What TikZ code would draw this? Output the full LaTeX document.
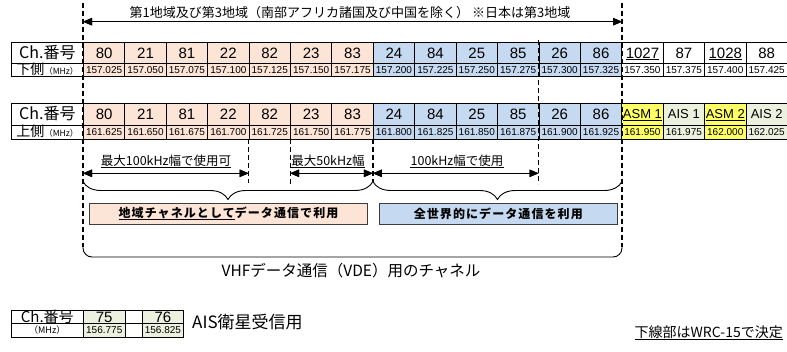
\documentclass[tikz,border=0pt]{standalone}
\usepackage{fontspec}
\setmainfont{Liberation Sans}
\newfontfamily\jp{Noto Sans CJK JP}
\usetikzlibrary{arrows.meta,decorations.pathreplacing}
\definecolor{cOr}{RGB}{252,228,214}
\definecolor{cBl}{RGB}{197,217,241}
\definecolor{cYe}{RGB}{255,255,102}
\definecolor{cGr}{RGB}{235,241,222}
\definecolor{cBox}{RGB}{60,60,60}
\newcommand\myul[2][2pt]{\leavevmode\setbox0=\hbox{#2}\rlap{\raisebox{-#1}{\rule{\wd0}{0.9pt}}}\box0}
\begin{document}
\begin{tikzpicture}[x=1pt,y=-1pt,
  cellbase/.style={draw, line width=0.8pt, inner sep=0pt, anchor=north west},
  numcell/.style={cellbase, minimum width=41.41pt, font=\fontsize{15}{15}\selectfont, text height=10.8pt, text depth=0pt},
  frqcell/.style={cellbase, minimum width=41.41pt, font=\fontsize{10}{10}\selectfont, text height=7.1pt, text depth=0pt},
  hdrcell/.style={cellbase, minimum width=72pt, font=\jp\fontsize{16}{16}\selectfont, text height=11.8pt, text depth=1pt},
  hdrfcell/.style={cellbase, minimum width=72pt, font=\jp\fontsize{14}{14}\selectfont, text height=10.5pt, text depth=1pt},
  dashv/.style={dash pattern=on 5pt off 3pt, line width=1.2pt},
  dimarrow/.style={line width=0.8pt, {Triangle[length=9pt,width=7.5pt]}-{Triangle[length=9pt,width=7.5pt]}},
  lbl/.style={font=\jp\fontsize{12.5}{12.5}\selectfont, inner sep=0pt},
  ulline/.style={line width=1pt},
  bracebrace/.style={decorate, decoration={brace, mirror, amplitude=18pt}, line width=0.9pt},
  usebox/.style={draw=cBox, line width=0.9pt, inner sep=0pt, minimum height=21pt, font=\jp\bfseries\fontsize{12}{12}\selectfont\addfontfeature{LetterSpace=9}}
]
\useasboundingbox (0,0) rectangle (787,351);

% ---------------- Coordinates
\coordinate (dLt) at (83,3);   \coordinate (dLb) at (83,247);
\coordinate (dRt) at (622,3);  \coordinate (dRb) at (622,247);
\coordinate (dMt) at (538.5,40); \coordinate (dMb) at (538.5,184);
\coordinate (dAt) at (248.6,139); \coordinate (dAb) at (248.6,183);
\coordinate (dBt) at (290.1,139); \coordinate (dBb) at (290.1,184);
\coordinate (dCt) at (372.9,139); \coordinate (dCb) at (372.9,182);
\coordinate (aTL) at (83,21.7); \coordinate (aTR) at (622,21.7);
\coordinate (w1L) at (83,173.3);    \coordinate (w1R) at (248.6,173.3);
\coordinate (w2L) at (290.1,173.3); \coordinate (w2R) at (372.9,173.3);
\coordinate (w3L) at (372.9,173.3); \coordinate (w3R) at (538.5,173.3);

% ---------------- Double-headed arrows
\foreach \pa/\pb in {aTL/aTR,w1L/w1R,w2L/w2R,w3L/w3R}{
  \draw[dimarrow] (\pa) -- (\pb);
  \fill (\pa) -- ++(9,-3.75) -- ++(0,7.5) -- cycle;
  \fill (\pb) -- ++(-9,-3.75) -- ++(0,7.5) -- cycle;
}

% ---------------- Title, labels, note
\node[font=\jp\fontsize{13}{13}\selectfont, inner sep=0pt] (title) at (350,12.5) {第1地域及び第3地域（南部アフリカ諸国及び中国を除く） ※日本は第3地域};
\node[lbl] (l1) at (166,160.5) {最大100kHz幅で使用可};
\node[lbl] (l2) at (328,160.5) {最大50kHz幅};
\node[lbl] (l3) at (457,160.5) {100kHz幅で使用};
\foreach \lb in {l1,l2,l3}
  \draw[ulline] ([yshift=-2.2pt]\lb.base west) -- ([yshift=-2.2pt]\lb.base east);
\node[font=\jp\fontsize{14}{14}\selectfont, inner sep=0pt, anchor=east] (note) at (783,332) {下線部はWRC-15で決定};
\draw[ulline] ([yshift=-2.5pt]note.base west) -- ([yshift=-2.5pt]note.base east);

% ---------------- Usage boxes
\node[usebox, fill=cOr, minimum width=278.4pt] (regbox) at (228.5,213.8) {\myul[2.5pt]{地域チャネルとして}データ通信で利用};
\node[usebox, fill=cBl, minimum width=238pt] (wldbox) at (498.3,213.8) {全世界的にデータ通信を利用};

% ---------------- Table 1 (lower side)
\node[hdrcell, minimum height=21.8pt] (t1h) at (11,41.5) {Ch.番号};
\node[hdrfcell, minimum height=12.7pt] (t1hf) at (11,63.3) {下側{\fontsize{8.5}{8.5}\selectfont（MHz）}};
\foreach \n/\f [count=\i from 0] in {80/157.025,21/157.050,81/157.075,22/157.100,82/157.125,23/157.150,83/157.175,24/157.200,84/157.225,25/157.250,85/157.275,26/157.300,86/157.325,\myul{1027}/157.350,87/157.375,\myul{1028}/157.400,88/157.425}{
  \pgfmathsetmacro\xx{83+\i*41.41}
  \ifnum\i<7 \def\fc{cOr}\else\ifnum\i<13 \def\fc{cBl}\else\def\fc{white}\fi\fi
  \node[numcell, fill=\fc, minimum height=21.8pt] (t1n\i) at (\xx,41.5) {\n};
  \node[frqcell, fill=\fc, minimum height=12.7pt] (t1f\i) at (\xx,63.3) {\f};
}

% ---------------- Table 2 (upper side)
\node[hdrcell, minimum height=21.5pt] (t2h) at (11,103) {Ch.番号};
\node[hdrfcell, minimum height=14.5pt] (t2hf) at (11,124.5) {上側{\fontsize{8.5}{8.5}\selectfont（MHz）}};
\foreach \n/\f [count=\i from 0] in {80/161.625,21/161.650,81/161.675,22/161.700,82/161.725,23/161.750,83/161.775,24/161.800,84/161.825,25/161.850,85/161.875,26/161.900,86/161.925,\myul{ASM 1}/161.950,AIS 1/161.975,\myul{ASM 2}/162.000,AIS 2/162.025}{
  \pgfmathsetmacro\xx{83+\i*41.41}
  \ifnum\i<7 \def\fc{cOr}\else\ifnum\i<13 \def\fc{cBl}\else\ifodd\i \def\fc{cYe}\else\def\fc{cGr}\fi\fi\fi
  \ifnum\i<13
    \node[numcell, fill=\fc, minimum height=21.5pt] (t2n\i) at (\xx,103) {\n};
  \else
    \node[numcell, fill=\fc, minimum height=21.5pt, font=\fontsize{13}{13}\selectfont, text height=9.4pt] (t2n\i) at (\xx,103) {\n};
  \fi
  \node[frqcell, fill=\fc, minimum height=14.5pt] (t2f\i) at (\xx,124.5) {\f};
}

% ---------------- Braces
\coordinate (b1L) at (83,181.5);    \coordinate (b1R) at (372.9,181.5);
\coordinate (b2L) at (372.9,181.5); \coordinate (b2R) at (622,181.5);
\draw[bracebrace] (b1L) -- (b1R);
\draw[bracebrace] (b2L) -- (b2R);

% ---------------- Big bracket
\coordinate (bgM) at (352.5,257);
\draw[line width=0.9pt, rounded corners=9pt] (dLb) |- (bgM) -| (dRb);
\node[font=\jp\fontsize{15.5}{15.5}\selectfont, inner sep=0pt] (vde) at (351,271) {VHFデータ通信（VDE）用のチャネル};

% ---------------- Table 3 (AIS satellite)
\node[hdrcell, minimum width=71.7pt, minimum height=13.3pt, font=\jp\fontsize{15}{15}\selectfont, text height=10.5pt, text depth=0.5pt] (t3h) at (11,310) {Ch.番号};
\node[hdrcell, minimum width=71.7pt, minimum height=13.4pt, font=\jp\fontsize{9}{9}\selectfont, text height=7pt, text depth=1pt] (t3hf) at (11,323.3) {（MHz）};
\node[numcell, fill=cGr, minimum width=42.3pt, minimum height=13.3pt, font=\fontsize{15}{15}\selectfont, text height=10.3pt] (t3n0) at (82.7,310) {75};
\node[frqcell, fill=cGr, minimum width=42.3pt, minimum height=13.4pt] (t3f0) at (82.7,323.3) {156.775};
\node[numcell, minimum width=16.7pt, minimum height=13.3pt] (t3n1) at (125,310) {};
\node[frqcell, minimum width=16.7pt, minimum height=13.4pt] (t3f1) at (125,323.3) {};
\node[numcell, fill=cGr, minimum width=41.6pt, minimum height=13.3pt, font=\fontsize{15}{15}\selectfont, text height=10.3pt] (t3n2) at (141.7,310) {76};
\node[frqcell, fill=cGr, minimum width=41.6pt, minimum height=13.4pt] (t3f2) at (141.7,323.3) {156.825};
\node[font=\jp\fontsize{17}{17}\selectfont, inner sep=0pt, anchor=west] (aisl) at (192,322) {AIS衛星受信用};

% ---------------- Dashed guide lines (drawn last)
\draw[dashv] (dLt) -- (dLb);
\draw[dashv] (dRt) -- (dRb);
\draw[dashv] (dMt) -- (dMb);
\draw[dashv] (dAt) -- (dAb);
\draw[dashv] (dBt) -- (dBb);
\draw[dashv] (dCt) -- (dCb);
\end{tikzpicture}
\end{document}
